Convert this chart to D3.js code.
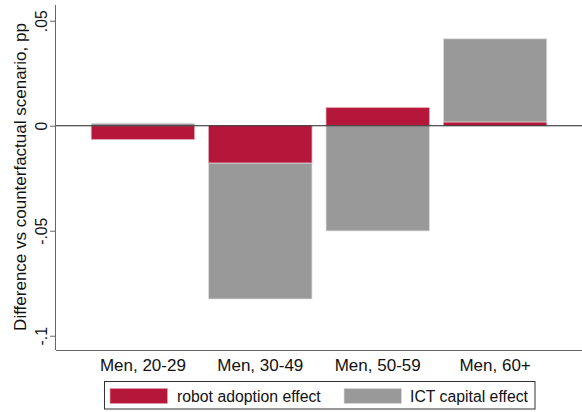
<!DOCTYPE html>
<html>
<head>
<meta charset="utf-8">
<script src="https://cdn.jsdelivr.net/npm/d3@7"></script>
<style>
  html, body { margin: 0; padding: 0; background: #fff; }
  svg { display: block; font-family: "Liberation Sans", Arial, sans-serif; }
</style>
</head>
<body>
<svg id="chart" width="582" height="412"></svg>
<script>
const categories = ["Men, 20-29", "Men, 30-49", "Men, 50-59", "Men, 60+"];
const robotEffect = [-0.0065, -0.0178, 0.0086, 0.0018];
const ictEffect = [0.0011, -0.0647, -0.0501, 0.0396];
const seriesNames = ["robot adoption effect", "ICT capital effect"];
const yTicks = [0.05, 0, -0.05, -0.1];
const yTickLabels = [".05", "0", "-.05", "-.1"];

const colors = { robot: "#b5173a", ict: "#999999" };
const strokes = { robot: "#e3a3b1", ict: "#dcdcdc" };

const svg = d3.select("#chart");
const plotLeft = 56, plotRight = 582, plotTop = 5, plotBottom = 350;

const table = categories.map((c, i) => ({ cat: c, robot: robotEffect[i], ict: ictEffect[i] }));
const stacked = d3.stack().keys(["robot", "ict"]).offset(d3.stackOffsetDiverging)(table);

const x = d3.scaleBand().domain(categories).range([plotLeft, plotRight]).paddingInner(0.12).paddingOuter(0.3);
const y = d3.scaleLinear().domain([-0.1068, 0.0575]).range([plotBottom, plotTop]);

// bars
stacked.forEach(layer => {
  svg.append("g").selectAll("rect").data(layer).join("rect")
    .attr("x", d => x(d.data.cat))
    .attr("width", x.bandwidth())
    .attr("y", d => y(Math.max(d[0], d[1])))
    .attr("height", d => Math.abs(y(d[0]) - y(d[1])))
    .attr("fill", colors[layer.key])
    .attr("stroke", strokes[layer.key])
    .attr("stroke-width", 0.7);
});

// zero line
svg.append("line")
  .attr("x1", plotLeft).attr("x2", plotRight)
  .attr("y1", y(0)).attr("y2", y(0))
  .attr("stroke", "#222").attr("stroke-width", 1.2);

// y axis
const yAxis = d3.axisLeft(y).tickValues(yTicks).tickSize(6)
  .tickFormat((d, i) => yTickLabels[i]);
const gy = svg.append("g").attr("transform", `translate(${plotLeft},0)`).call(yAxis);
gy.select(".domain").attr("stroke", "#666").attr("d", `M-0.5,${plotTop}V${plotBottom}`);
gy.selectAll(".tick line").attr("stroke", "#666");
gy.selectAll(".tick text")
  .attr("font-size", 15.7)
  .attr("fill", "#111")
  .attr("x", null)
  .attr("text-anchor", "middle")
  .attr("transform", "translate(-9,0) rotate(-90)")
  .attr("y", 0)
  .attr("dy", "0em");

// x axis
const xAxis = d3.axisBottom(x).tickSize(0).tickPadding(9);
const gx = svg.append("g").attr("transform", `translate(0,${plotBottom})`).call(xAxis);
gx.select(".domain").attr("stroke", "#666").attr("d", `M${plotLeft},0.5H${plotRight}`);
gx.selectAll(".tick text").attr("font-size", 17).attr("fill", "#111");

// y title
svg.append("text")
  .attr("transform", `translate(26,177) rotate(-90)`)
  .attr("text-anchor", "middle")
  .attr("font-size", 17)
  .attr("fill", "#111")
  .text("Difference vs counterfactual scenario, pp");

// legend
const lg = svg.append("g");
lg.append("rect").attr("x", 104.5).attr("y", 381.5).attr("width", 430.5).attr("height", 27.5)
  .attr("fill", "#fff").attr("stroke", "#333").attr("stroke-width", 1);
const legendItems = [
  { key: "robot", label: seriesNames[0], sx: 110, tx: 177 },
  { key: "ict", label: seriesNames[1], sx: 344, tx: 410 }
];
legendItems.forEach(it => {
  lg.append("rect").attr("x", it.sx).attr("y", 388.5).attr("width", 57.5).attr("height", 15)
    .attr("fill", colors[it.key]).attr("stroke", strokes[it.key]).attr("stroke-width", 0.7);
  lg.append("text").attr("x", it.tx).attr("y", 401.5)
    .attr("font-size", 15.8).attr("fill", "#111").text(it.label);
});
</script>
</body>
</html>
